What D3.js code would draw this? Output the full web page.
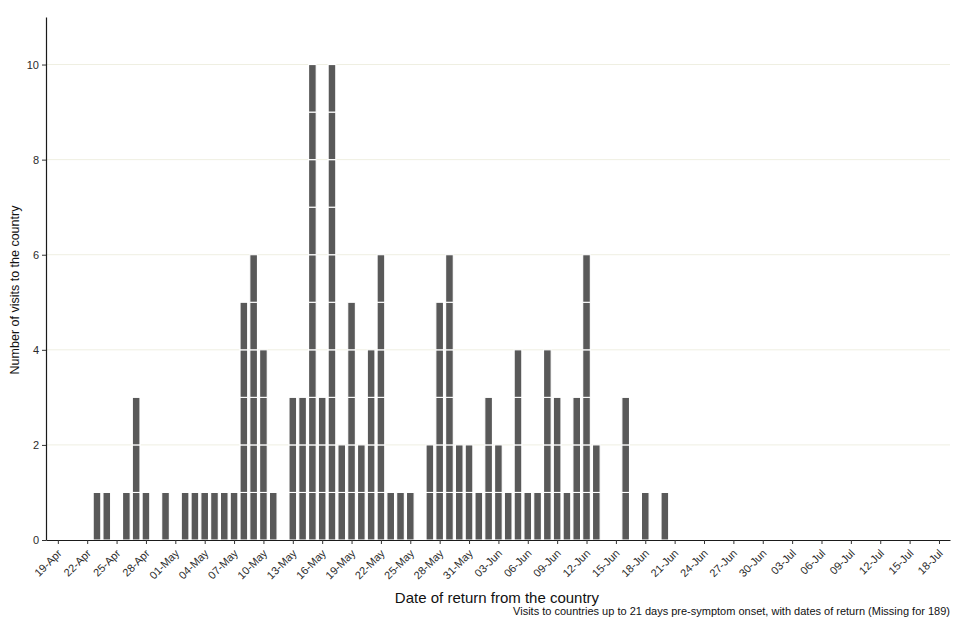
<!DOCTYPE html>
<html>
<head>
<meta charset="utf-8">
<script src="https://cdn.jsdelivr.net/npm/d3@7"></script>
<style>
  html, body { margin: 0; padding: 0; background: #fff; }
  svg { display: block; }
  text { font-family: "Liberation Sans", Arial, sans-serif; }
</style>
</head>
<body>
<svg id="chart" width="960" height="640"></svg>
<script>
// ---- data ----
const year = 2022;
const dayLabels = [
  "19-Apr","20-Apr","21-Apr","22-Apr","23-Apr","24-Apr","25-Apr","26-Apr","27-Apr","28-Apr","29-Apr","30-Apr",
  "01-May","02-May","03-May","04-May","05-May","06-May","07-May","08-May","09-May","10-May","11-May","12-May",
  "13-May","14-May","15-May","16-May","17-May","18-May","19-May","20-May","21-May","22-May","23-May","24-May",
  "25-May","26-May","27-May","28-May","29-May","30-May","31-May",
  "01-Jun","02-Jun","03-Jun","04-Jun","05-Jun","06-Jun","07-Jun","08-Jun","09-Jun","10-Jun","11-Jun","12-Jun",
  "13-Jun","14-Jun","15-Jun","16-Jun","17-Jun","18-Jun","19-Jun","20-Jun"
];
const visitCounts = [
  0,0,0,0,1,1,0,1,3,1,0,1,
  0,1,1,1,1,1,1,5,6,4,1,0,
  3,3,10,3,10,2,5,2,4,6,1,1,
  1,0,2,5,6,2,2,
  1,3,2,1,4,1,1,4,3,1,3,6,
  2,0,0,3,0,1,0,1
];
const xTickLabels = [
  "19-Apr","22-Apr","25-Apr","28-Apr","01-May","04-May","07-May","10-May","13-May","16-May","19-May",
  "22-May","25-May","28-May","31-May","03-Jun","06-Jun","09-Jun","12-Jun","15-Jun","18-Jun","21-Jun",
  "24-Jun","27-Jun","30-Jun","03-Jul","06-Jul","09-Jul","12-Jul","15-Jul","18-Jul"
];
const yTicks = [0, 2, 4, 6, 8, 10];
const xTitle = "Date of return from the country";
const yTitle = "Number of visits to the country";
const caption = "Visits to countries up to 21 days pre-symptom onset, with dates of return (Missing for 189)";

// ---- setup ----
const parse = d3.utcParse("%d-%b-%Y");
const toDate = s => parse(s + "-" + year);
const fmt = d3.utcFormat("%d-%b");

const svg = d3.select("#chart");
const plotLeft = 46, plotRight = 950, plotTop = 17, plotBottom = 540;
const firstDay = toDate(xTickLabels[0]);
const x = d3.scaleUtc()
  .domain([d3.utcHour.offset(firstDay, -1.2 * 24), d3.utcHour.offset(firstDay, 91.15 * 24)])
  .range([plotLeft, plotRight]);
const y = d3.scaleLinear().domain([0, 11]).range([plotBottom, plotTop]);

// gridlines
svg.append("g")
  .selectAll("line")
  .data(yTicks.filter(d => d > 0))
  .join("line")
  .attr("x1", plotLeft).attr("x2", plotRight)
  .attr("y1", d => y(d)).attr("y2", d => y(d))
  .attr("stroke", "#efefe2").attr("stroke-width", 1);

// bars as stacked unit blocks
const units = [];
dayLabels.forEach((lab, i) => {
  for (let k = 0; k < visitCounts[i]; k++) units.push({ date: toDate(lab), k });
});
const dayW = x(d3.utcDay.offset(firstDay, 1)) - x(firstDay);
const bw = dayW * 0.78;
svg.append("g")
  .selectAll("rect")
  .data(units)
  .join("rect")
  .attr("x", d => x(d.date) - bw / 2)
  .attr("y", d => y(d.k + 1))
  .attr("width", bw)
  .attr("height", d => y(d.k) - y(d.k + 1))
  .attr("fill", "#595959")
  .attr("stroke", "#ffffff")
  .attr("stroke-width", 1.1);

// x axis
const xAxis = d3.axisBottom(x)
  .tickValues(xTickLabels.map(toDate))
  .tickFormat(fmt)
  .tickSize(4)
  .tickSizeOuter(0);
const gx = svg.append("g").attr("transform", `translate(0,${plotBottom})`).call(xAxis);
gx.select(".domain").attr("stroke", "#1a1a1a").attr("stroke-width", 1.2);
gx.selectAll(".tick line").attr("stroke", "#333");
gx.selectAll(".tick text")
  .attr("font-size", 11)
  .attr("fill", "#2b2b2b")
  .attr("text-anchor", "end")
  .attr("x", 0).attr("y", 0).attr("dy", 0)
  .attr("transform", "translate(4,14) rotate(-45)");

// y axis
const yAxis = d3.axisLeft(y).tickValues(yTicks).tickSize(4).tickSizeOuter(0).tickPadding(3);
const gy = svg.append("g").attr("transform", `translate(${plotLeft},0)`).call(yAxis);
gy.select(".domain").attr("stroke", "#1a1a1a").attr("stroke-width", 1.2);
gy.selectAll(".tick line").attr("stroke", "#333");
gy.selectAll(".tick text").attr("font-size", 11).attr("fill", "#2b2b2b");

// titles
svg.append("text")
  .attr("x", 497).attr("y", 603)
  .attr("text-anchor", "middle")
  .attr("font-size", 15).attr("fill", "#111")
  .text(xTitle);
svg.append("text")
  .attr("transform", `translate(19,290) rotate(-90)`)
  .attr("text-anchor", "middle")
  .attr("font-size", 12.5).attr("fill", "#111")
  .text(yTitle);
svg.append("text")
  .attr("x", 950).attr("y", 615)
  .attr("text-anchor", "end")
  .attr("font-size", 11).attr("fill", "#111")
  .text(caption);
</script>
</body>
</html>
